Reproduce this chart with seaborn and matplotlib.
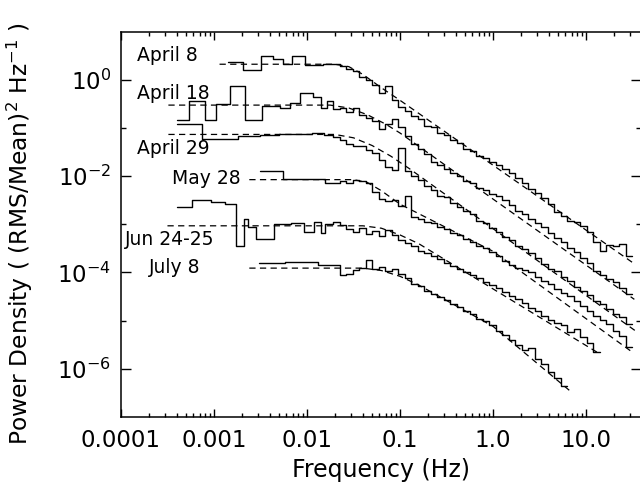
import numpy as np
import matplotlib
matplotlib.use("Agg")
import matplotlib.pyplot as plt
import seaborn as sns
from matplotlib.ticker import FixedLocator, FixedFormatter, NullFormatter, LogLocator

# ---------------- data (log10 frequency / log10 power) ----
labels = ["April 8", "April 18", "April 29", "May 28", "Jun 24-25", "July 8"]

# common high-frequency bin edges (log10 Hz)
hf_grid = [-1.65, -1.58, -1.51, -1.44, -1.37, -1.30, -1.23, -1.16, -1.09, -1.02,
           -0.95, -0.88, -0.81, -0.74, -0.67, -0.60, -0.53, -0.46, -0.39, -0.32,
           -0.25, -0.18, -0.11, -0.04, 0.03, 0.10, 0.17, 0.24, 0.31, 0.38,
           0.45, 0.52, 0.59, 0.66, 0.73, 0.80, 0.87, 0.94, 1.01, 1.08,
           1.15, 1.22, 1.29, 1.36, 1.43, 1.49]

# April 8
apr8_lo_edges = [-2.85, -2.69, -2.49, -2.37, -2.26, -2.16, -2.02, -1.83, -1.65]
apr8_lo = [0.38, 0.22, 0.50, 0.43, 0.33, 0.50, 0.32, 0.33]
apr8_hi = [0.30, 0.24, 0.18, 0.06, 0.00, -0.10, -0.27, -0.12, -0.42, -0.55,
           -0.64, -0.74, -0.80, -0.95, -0.98, -1.10, -1.14, -1.24, -1.30, -1.44,
           -1.47, -1.58, -1.62, -1.70, -1.76, -1.84, -1.93, -2.03, -2.14, -2.26,
           -2.34, -2.45, -2.58, -2.74, -2.82, -2.92, -2.96, -3.04, -3.16, -3.36,
           -3.56, -3.42, -3.44, -3.41, -3.66]
apr8_model_f = [-2.94, -1.70, -1.55, -1.40, -1.20, -1.00, 1.52]
apr8_model_p = [0.33, 0.33, 0.28, 0.12, -0.16, -0.42, -3.82]

# April 18
apr18_lo_edges = [-3.40, -3.27, -3.10, -2.98, -2.83, -2.67, -2.48, -2.29, -2.18,
                  -2.08, -1.94, -1.85, -1.78, -1.72, -1.65]
apr18_lo = [-0.82, -0.44, -0.82, -0.50, -0.12, -0.83, -0.54, -0.58, -0.48,
            -0.27, -0.35, -0.58, -0.43, -0.61]
apr18_hi = [-0.57, -0.66, -0.58, -0.72, -0.78, -0.85, -1.02, -0.92, -0.80, -0.98,
            -1.16, -1.33, -1.44, -1.53, -1.70, -1.76, -1.85, -1.94, -2.00, -2.10,
            -2.14, -2.24, -2.29, -2.36, -2.42, -2.50, -2.60, -2.72, -2.78, -2.88,
            -2.98, -3.06, -3.18, -3.28, -3.36, -3.50, -3.58, -3.70, -3.80, -3.96,
            -4.06, -4.14, -4.20, -4.32, -4.44]
apr18_model_f = [-3.49, -1.75, -1.55, -1.35, -1.15, -1.00, 1.52]
apr18_model_p = [-0.52, -0.52, -0.58, -0.72, -0.92, -1.10, -4.56]

# April 29
apr29_lo_edges = [-3.40, -3.13, -2.74, -2.50, -2.30, -2.10, -1.95, -1.82, -1.72, -1.65]
apr29_lo = [-0.92, -1.22, -1.17, -1.14, -1.13, -1.12, -1.11, -1.14, -1.18]
apr29_hi = [-1.25, -1.33, -1.38, -1.37, -1.46, -1.52, -1.66, -1.80, -1.86, -1.42,
            -1.90, -2.00, -2.08, -2.20, -2.28, -2.40, -2.44, -2.55, -2.63, -2.72,
            -2.79, -2.92, -2.98, -3.08, -3.16, -3.26, -3.33, -3.44, -3.52, -3.60,
            -3.70, -3.82, -3.92, -3.98, -4.10, -4.18, -4.30, -4.38, -4.46, -4.60,
            -4.66, -4.76, -4.86, -4.92, -5.08]
apr29_model_f = [-3.49, -1.70, -1.50, -1.30, -1.10, -0.90, 1.55]
apr29_model_p = [-1.13, -1.13, -1.20, -1.36, -1.58, -1.84, -5.24]

# May 28
may28_lo_edges = [-2.51, -2.26, -1.81, -1.65]
may28_lo = [-1.89, -2.06, -2.14]
may28_hi = [-2.10, -2.13, -2.08, -2.10, -2.14, -2.32, -2.48, -2.52, -2.50, -2.62,
            -2.40, -2.84, -2.88, -2.95, -2.98, -3.06, -3.10, -3.18, -3.22, -3.30,
            -3.36, -3.44, -3.50, -3.58, -3.66, -3.76, -3.84, -3.90, -3.94, -4.00,
            -4.10, -4.18, -4.25, -4.34, -4.42, -4.50, -4.60, -4.70, -4.80, -4.90,
            -4.98, -5.08, -5.22, -5.32, -5.54]
may28_model_f = [-2.62, -1.50, -1.35, -1.20, -1.00, 0.00, 1.50]
may28_model_p = [-2.07, -2.07, -2.13, -2.30, -2.58, -3.56, -5.66]

# Jun 24-25
jun24_lo_edges = [-3.40, -3.24, -3.03, -2.88, -2.76, -2.68, -2.63, -2.55, -2.35,
                  -2.17, -2.03, -1.92, -1.85, -1.81, -1.72, -1.65]
jun24_lo = [-2.64, -2.50, -2.54, -2.57, -3.46, -2.88, -3.06, -3.30, -2.99,
            -2.98, -3.16, -2.95, -3.18, -3.00, -2.95]
jun24_hi = [-3.02, -3.10, -3.16, -3.08, -3.20, -3.14, -3.24, -3.12, -3.22, -3.32,
            -3.38, -3.44, -3.56, -3.60, -3.66, -3.72, -3.80, -3.86, -3.92, -4.00,
            -4.06, -4.12, -4.20, -4.26, -4.33, -4.40, -4.48, -4.56, -4.64, -4.74,
            -4.80, -4.90, -4.98, -5.06, -5.10, -5.24, -5.18, -5.34, -5.46, -5.66]
jun24_model_f = [-3.50, -1.40, -1.20, -1.00, -0.80, 1.12]
jun24_model_p = [-3.03, -3.03, -3.08, -3.22, -3.40, -5.66]

# July 8
jul8_lo_edges = [-2.52, -2.24, -1.88, -1.65]
jul8_lo = [-3.81, -3.79, -3.84]
jul8_hi = [-4.06, -4.04, -3.94, -3.90, -3.74, -3.92, -3.88, -3.96, -3.92, -4.04,
           -4.12, -4.24, -4.28, -4.38, -4.44, -4.52, -4.58, -4.66, -4.72, -4.80,
           -4.86, -4.96, -5.02, -5.10, -5.22, -5.30, -5.40, -5.50, -5.62, -5.58,
           -5.80, -5.90, -6.06, -6.20, -6.36]
jul8_model_f = [-2.62, -1.40, -1.20, -1.00, -0.80, 0.00, 0.82]
jul8_model_p = [-3.91, -3.91, -3.96, -4.08, -4.26, -5.12, -6.45]

x_tick_vals = [1e-4, 1e-3, 1e-2, 1e-1, 1.0, 10.0]
x_tick_labels = ["0.0001", "0.001", "0.01", "0.1", "1.0", "10.0"]

series = [
    (apr8_lo_edges, apr8_lo, apr8_hi, apr8_model_f, apr8_model_p),
    (apr18_lo_edges, apr18_lo, apr18_hi, apr18_model_f, apr18_model_p),
    (apr29_lo_edges, apr29_lo, apr29_hi, apr29_model_f, apr29_model_p),
    (may28_lo_edges, may28_lo, may28_hi, may28_model_f, may28_model_p),
    (jun24_lo_edges, jun24_lo, jun24_hi, jun24_model_f, jun24_model_p),
    (jul8_lo_edges, jul8_lo, jul8_hi, jul8_model_f, jul8_model_p),
]

# ---------------- style ----------------
sns.set_theme(style="ticks")
plt.rcParams["font.family"] = ["DejaVu Sans"]
plt.rcParams["mathtext.fontset"] = "dejavusans"
for key in ["text.color", "axes.labelcolor", "xtick.color", "ytick.color",
            "axes.edgecolor"]:
    plt.rcParams[key] = "black"

fig = plt.figure(figsize=(6.4, 4.91), dpi=100)
ax = fig.add_axes([0.189, 0.1513, 0.8125, 0.7835])
ax.set_xscale("log")
ax.set_yscale("log")

for lo_e, lo_v, hi_v, mf, mp in series:
    edges = list(lo_e) + hf_grid[1:len(hi_v) + 1]
    vals = list(lo_v) + list(hi_v)
    xs = 10 ** np.array(edges)
    ys = 10 ** np.array(vals + [vals[-1]])
    sns.lineplot(x=xs, y=ys, ax=ax, color="black", lw=1.0,
                 drawstyle="steps-post", errorbar=None, sort=False, legend=False)
    sns.lineplot(x=10 ** np.array(mf), y=10 ** np.array(mp), ax=ax, color="black",
                 lw=0.9, linestyle=(0, (5, 3.5)), errorbar=None, sort=False,
                 legend=False)

label_pos = [(-3.83, 0.52), (-3.83, -0.27), (-3.83, -1.42),
             (-3.45, -2.04), (-3.96, -3.31), (-3.70, -3.90)]
for lab, (lx, ly) in zip(labels, label_pos):
    ax.text(10 ** lx, 10 ** ly, lab, ha="left", va="center", fontsize=13.5,
            color="black")

ax.set_xlim(1e-4, 10 ** 1.591)
ax.set_ylim(1e-7, 10.0)

ax.xaxis.set_major_locator(FixedLocator(x_tick_vals))
ax.xaxis.set_major_formatter(FixedFormatter(x_tick_labels))
ax.xaxis.set_minor_locator(LogLocator(base=10, subs=np.arange(2, 10), numticks=20))
ax.xaxis.set_minor_formatter(NullFormatter())

ax.yaxis.set_major_locator(FixedLocator([1e0, 1e-2, 1e-4, 1e-6]))
ax.yaxis.set_minor_locator(FixedLocator([1e-1, 1e-3, 1e-5]))
ax.yaxis.set_minor_formatter(NullFormatter())

ax.tick_params(axis="both", which="both", direction="in", top=True, right=True,
               color="black", labelcolor="black", width=1.0)
ax.tick_params(axis="x", which="major", length=5.5, labelsize=16.5, pad=9)
ax.tick_params(axis="x", which="minor", length=2.8)
ax.tick_params(axis="y", which="major", length=7.5, labelsize=16.5, pad=7)
ax.tick_params(axis="y", which="minor", length=3.8)
for sp in ax.spines.values():
    sp.set_linewidth(1.1)
    sp.set_color("black")

ax.set_xlabel("Frequency (Hz)", fontsize=17, labelpad=4, color="black")
ax.set_ylabel("Power Density ( (RMS/Mean)$^2$ Hz$^{-1}$ )", fontsize=16.8,
              color="black")
ax.yaxis.set_label_coords(-0.165, 0.475)

fig.savefig("out.png", dpi=100)
